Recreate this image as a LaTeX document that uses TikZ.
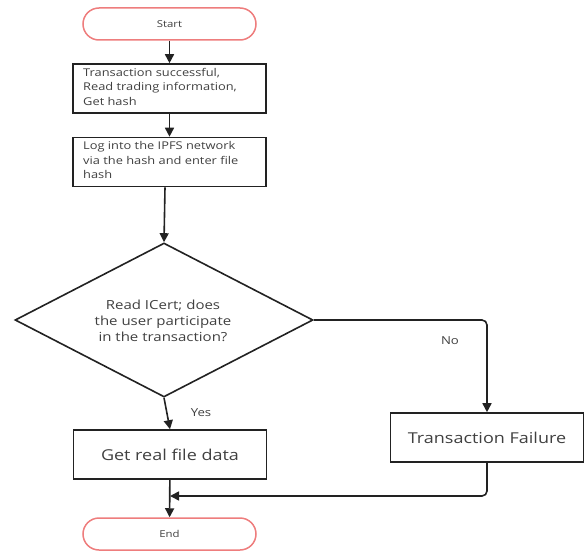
\documentclass[tikz,border=0pt]{standalone}
\usepackage{fontspec}
\setmainfont{Open Sans}[FakeStretch=1.2]
\usetikzlibrary{arrows.meta,shapes.geometric}
\definecolor{termred}{HTML}{EE7D7D}
\definecolor{txt}{HTML}{404040}
\definecolor{ln}{HTML}{222222}
\begin{document}
\begin{tikzpicture}[x=1pt,y=-1pt,
  term/.style={draw=termred,line width=1.5pt,rounded corners=16pt,minimum width=173pt,minimum height=32pt,inner sep=0pt,text=txt,font=\fontsize{9.5}{11}\selectfont},
  procbox/.style={draw=ln,line width=1.6pt,minimum width=193pt,minimum height=49pt,inner sep=0pt,text=txt},
  decision/.style={draw=ln,line width=1.6pt,diamond,minimum width=298pt,minimum height=154pt,inner sep=0pt,aspect=1.94},
  boxtext/.style={anchor=north west,align=left,text=txt,font=\fontsize{10.7}{14.5}\selectfont,inner sep=0pt},
  conn/.style={draw=ln,line width=1.6pt,-{Triangle[width=9pt,length=9pt]},rounded corners=5pt},
  lbl/.style={text=txt,font=\fontsize{11}{13}\selectfont}]
\useasboundingbox (0,0) rectangle (584,551);
\node[term] (start) at (169.5,24) {Start};
\node[procbox] (b1) at (169.5,88.5) {};
\node[boxtext] (t1) at (83,68) {Transaction successful,\\Read trading information,\\Get hash};
\node[procbox] (b2) at (169.5,162) {};
\node[boxtext] (t2) at (83,141.5) {Log into the IPFS network\\via the hash and enter file\\hash};
\node[decision] (dec) at (164,320) {};
\node[text=txt,align=center,font=\fontsize{12.5}{16}\selectfont] (dt) at (163,321) {Read ICert; does\\the user participate\\in the transaction?};
\node[procbox,font=\fontsize{15}{17}\selectfont] (get) at (170,454.5) {Get real file data};
\node[procbox,font=\fontsize{15}{17}\selectfont] (fail) at (487,437.5) {Transaction Failure};
\node[term] (end) at (169.5,534) {End};
\node[lbl] (yes) at (201,413) {Yes};
\node[lbl] (no) at (450,341) {No};
\coordinate (m) at (170,496);
\draw[conn] (start) -- (b1);
\draw[conn] (b1) -- (b2);
\draw[conn] (b2.south -| 165,0) -- (dec.north);
\draw[conn] (dec.south) -- (get.north);
\draw[conn] (dec.east) -| (fail.north);
\draw[conn] (get) -- (end);
\draw[conn] (fail.south) |- (m);
\end{tikzpicture}
\end{document}
